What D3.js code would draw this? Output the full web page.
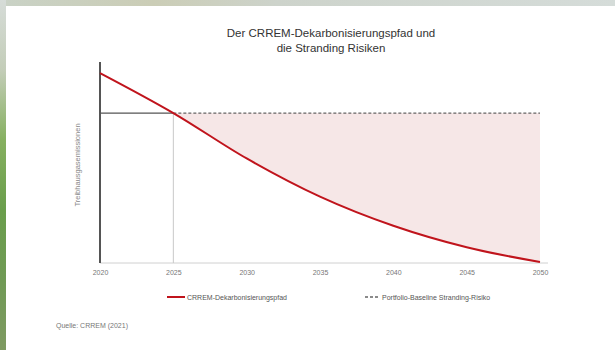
<!DOCTYPE html>
<html>
<head>
<meta charset="utf-8">
<script src="https://cdn.jsdelivr.net/npm/d3@7"></script>
<style>
  html, body { margin: 0; padding: 0; background: #fff; }
  svg { display: block; font-family: "Liberation Sans", Arial, sans-serif; }
</style>
</head>
<body>
<svg id="chart" width="615" height="350"></svg>
<script>
// CRREM decarbonisation pathway (index of emission intensity)
const years = [2020, 2025, 2030, 2035, 2040, 2045, 2050];
const pathway = [94.5, 74.6, 52.0, 33.0, 18.5, 7.8, 0.5];
const tickYears = [2020, 2025, 2030, 2035, 2040, 2045, 2050];
const baselineValue = 74.6;   // building emissions held constant
const strandingYear = 2025;
const titleLines = ["Der CRREM-Dekarbonisierungspfad und", "die Stranding Risiken"];
const legendLabels = ["CRREM-Dekarbonisierungspfad", "Portfolio-Baseline Stranding-Risiko"];
const yTitle = "Treibhausgasemissionen";
const source = "Quelle: CRREM (2021)";

const svg = d3.select("#chart");
const W = 615, H = 350;

// frame around the white panel
const defs = svg.append("defs");
const gl = defs.append("linearGradient").attr("id", "leftFrame")
  .attr("x1", 0).attr("y1", 0).attr("x2", 0).attr("y2", 1);
[["0%", "#d6dcd8"], ["20%", "#c3cdb8"], ["40%", "#86b060"], ["60%", "#6a9e4c"], ["80%", "#709a55"], ["100%", "#7f9a62"]]
  .forEach(([o, c]) => gl.append("stop").attr("offset", o).attr("stop-color", c));
const gt = defs.append("linearGradient").attr("id", "topFrame")
  .attr("x1", 0).attr("y1", 0).attr("x2", 1).attr("y2", 0);
[["0%", "#c9d2c6"], ["25%", "#cbcdb6"], ["45%", "#cdd3cb"], ["100%", "#d5dcd9"]]
  .forEach(([o, c]) => gt.append("stop").attr("offset", o).attr("stop-color", c));

svg.append("rect").attr("x", 0).attr("y", 0).attr("width", W).attr("height", H).attr("fill", "#fff");
svg.append("rect").attr("x", 0).attr("y", 0).attr("width", W).attr("height", 6).attr("fill", "url(#topFrame)");
svg.append("rect").attr("x", 0).attr("y", 0).attr("width", 6).attr("height", H).attr("fill", "url(#leftFrame)");

// scales
const x = d3.scaleLinear().domain([2020, 2050]).range([100, 540]);
const y = d3.scaleLinear().domain([0, 100]).range([263, 62]);

const data = years.map((yr, i) => ({ year: yr, value: pathway[i] }));
const curve = d3.curveMonotoneX;

// stranding gap: area between constant baseline and the pathway after the stranding year
const gap = data.filter(d => d.year >= strandingYear);
svg.append("path")
  .datum(gap)
  .attr("fill", "#f6e7e7")
  .attr("d", d3.area().curve(curve)
    .x(d => x(d.year))
    .y0(y(baselineValue))
    .y1(d => y(d.value)));

// x axis
const xAxis = svg.append("g").attr("transform", `translate(0,${y(0)})`)
  .call(d3.axisBottom(x).tickValues(tickYears).tickFormat(d3.format("d")).tickSize(0).tickPadding(7));
xAxis.select(".domain").attr("stroke", "#d0d0d0").attr("d", `M${x(2020)},0H${x(2050) + 8}`);
xAxis.selectAll("text").attr("fill", "#777").attr("font-size", 7);

// stranding year marker
svg.append("line")
  .attr("x1", x(strandingYear)).attr("x2", x(strandingYear))
  .attr("y1", y(baselineValue)).attr("y2", y(0))
  .attr("stroke", "#c8c8c8").attr("stroke-width", 1);

// baseline: solid up to the stranding year, dashed afterwards
svg.append("line")
  .attr("x1", x(2020)).attr("x2", x(strandingYear))
  .attr("y1", y(baselineValue)).attr("y2", y(baselineValue))
  .attr("stroke", "#555").attr("stroke-width", 1.3);
svg.append("line")
  .attr("x1", x(strandingYear)).attr("x2", x(2050))
  .attr("y1", y(baselineValue)).attr("y2", y(baselineValue))
  .attr("stroke", "#666").attr("stroke-width", 1.3).attr("stroke-dasharray", "3,2");

// y axis
svg.append("line")
  .attr("x1", x(2020)).attr("x2", x(2020))
  .attr("y1", y(100)).attr("y2", y(0))
  .attr("stroke", "#555").attr("stroke-width", 2);

// decarbonisation pathway
svg.append("path")
  .datum(data)
  .attr("fill", "none")
  .attr("stroke", "#c0141c")
  .attr("stroke-width", 2)
  .attr("d", d3.line().curve(curve).x(d => x(d.year)).y(d => y(d.value)));

// titles
svg.append("g").selectAll("text").data(titleLines).join("text")
  .attr("x", 331).attr("y", (d, i) => 37 + i * 15)
  .attr("text-anchor", "middle").attr("font-size", 11.5).attr("fill", "#333")
  .text(d => d);

svg.append("text")
  .attr("transform", `translate(80,165) rotate(-90)`)
  .attr("text-anchor", "middle").attr("font-size", 7.5).attr("fill", "#888")
  .text(yTitle);

// legend
const lg = svg.append("g").attr("font-size", 7).attr("fill", "#555");
lg.append("line").attr("x1", 167).attr("x2", 185).attr("y1", 297).attr("y2", 297)
  .attr("stroke", "#c0141c").attr("stroke-width", 2);
lg.append("text").attr("x", 187).attr("y", 299.5).text(legendLabels[0]);
lg.append("line").attr("x1", 365).attr("x2", 380).attr("y1", 297).attr("y2", 297)
  .attr("stroke", "#666").attr("stroke-width", 1.3).attr("stroke-dasharray", "3,2");
lg.append("text").attr("x", 382).attr("y", 299.5).text(legendLabels[1]);

svg.append("text").attr("x", 56).attr("y", 328)
  .attr("font-size", 7).attr("fill", "#777").text(source);
</script>
</body>
</html>
